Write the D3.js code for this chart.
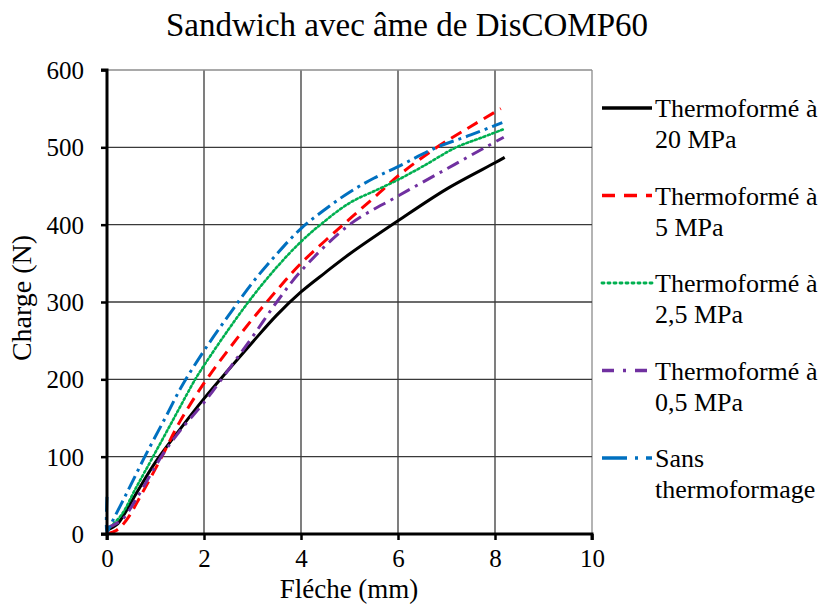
<!DOCTYPE html>
<html>
<head>
<meta charset="utf-8">
<script src="https://cdn.jsdelivr.net/npm/d3@7"></script>
<style>
  html, body { margin: 0; padding: 0; background: #fff; }
  svg { display: block; }
  svg text { font-family: 'Liberation Serif', 'Times New Roman', serif; fill: #000; }
</style>
</head>
<body>
<svg id="chart" width="823" height="616"></svg>
<script>
// ---------- Data ----------
const chartTitle = "Sandwich avec âme de DisCOMP60";
const xAxisTitle = "Fléche (mm)";
const yAxisTitle = "Charge (N)";
const xTicks = [0, 2, 4, 6, 8, 10];
const yTicks = [0, 100, 200, 300, 400, 500, 600];

const seriesNames = [
  ["Thermoformé à", "20 MPa"],
  ["Thermoformé à", "5 MPa"],
  ["Thermoformé à", "2,5 MPa"],
  ["Thermoformé à", "0,5 MPa"],
  ["Sans", "thermoformage"]
];

const fleche20 = [0, 0.2, 0.35, 0.6, 1.0, 1.5, 2, 2.5, 3, 3.5, 4, 4.5, 5, 6, 7, 8, 8.2];
const charge20 = [5, 12, 25, 52, 93, 135, 175, 212, 248, 283, 313, 338, 362, 405, 446, 480, 487];

const fleche5 = [0, 0.2, 0.4, 0.7, 1.13, 1.5, 2, 2.5, 3, 3.5, 4, 4.87, 5.63, 6, 6.8, 7.5, 8.12];
const charge5 = [0, 5, 18, 50, 100, 145, 195, 238, 278, 315, 350, 400, 442, 463, 500, 527, 550];

const fleche25 = [0, 0.3, 0.6, 0.95, 1.4, 1.81, 2, 2.5, 3, 3.5, 4, 4.4, 5, 5.6, 6, 6.5, 7.2, 7.7, 8.16];
const charge25 = [5, 25, 60, 100, 152, 199, 218, 264, 307, 345, 378, 400, 428, 446, 458, 475, 500, 512, 523];

const fleche05 = [0, 0.3, 0.6, 1.12, 1.5, 2, 2.5, 3, 3.5, 4, 5, 6, 7, 7.8, 8.18];
const charge05 = [8, 18, 45, 100, 133, 170, 212, 255, 300, 340, 400, 437, 472, 500, 513];

const flecheSans = [0, 0, 0.06, 0.4, 0.78, 1.2, 1.55, 2, 2.5, 3, 3.5, 4, 4.5, 5, 5.5, 6, 6.8, 7.5, 8.15];
const chargeSans = [48, 2, 10, 52, 100, 150, 192, 237, 282, 325, 362, 395, 420, 442, 460, 475, 500, 516, 532];

const seriesX = [fleche20, fleche5, fleche25, fleche05, flecheSans];
const seriesY = [charge20, charge5, charge25, charge05, chargeSans];

// ---------- Styles ----------
const FONT = "'Liberation Serif', 'Times New Roman', serif";
const colors = ["#000000", "#ff0000", "#00b050", "#7030a0", "#0070c0"];
const dashes = [null, "12,7", "2,2.6", "13,6,3,6", "15,5,3,5"];
const widths = [3, 3, 2.6, 3, 3];
const legendDashes = [null, "13,9", "2,4", "12,9,3,9", "25,8,3,8"];

// ---------- Layout ----------
const svg = d3.select("#chart");
const x = d3.scaleLinear().domain([0, 10]).range([107, 592]);
const y = d3.scaleLinear().domain([0, 600]).range([534, 70]);

// gridlines
const grid = svg.append("g");
grid.selectAll(".vg").data(xTicks.filter(d => d > 0)).enter().append("line")
  .attr("x1", d => x(d)).attr("x2", d => x(d))
  .attr("y1", y(600)).attr("y2", y(0))
  .attr("stroke", d => d === 10 ? "#8c8c8c" : "#3a3a3a").attr("stroke-width", 1.3);
grid.selectAll(".hg").data(yTicks.filter(d => d > 0)).enter().append("line")
  .attr("x1", x(0)).attr("x2", x(10))
  .attr("y1", d => y(d)).attr("y2", d => y(d))
  .attr("stroke", d => d === 600 ? "#8c8c8c" : "#3a3a3a").attr("stroke-width", 1.3);

// series
const line = d3.line().curve(d3.curveCatmullRom.alpha(0.5));
seriesX.forEach((xs, i) => {
  const pts = xs.map((v, k) => [x(v), y(seriesY[i][k])]);
  svg.append("path")
    .attr("d", line(pts))
    .attr("fill", "none")
    .attr("stroke", colors[i])
    .attr("stroke-width", widths[i])
    .attr("stroke-dasharray", dashes[i])
    .attr("stroke-linecap", i === 2 ? "round" : "butt")
    .attr("stroke-linejoin", "round");
});

// axes
const yAxis = d3.axisLeft(y).tickValues(yTicks).tickSize(6).tickPadding(17).tickFormat(d3.format("d"));
const xAxis = d3.axisBottom(x).tickValues(xTicks).tickSize(6).tickPadding(9).tickFormat(d3.format("d"));
const gy = svg.append("g").attr("transform", `translate(${x(0)},0)`).call(yAxis);
const gx = svg.append("g").attr("transform", `translate(0,${y(0)})`).call(xAxis);
[gy, gx].forEach(g => {
  g.attr("font-family", FONT).attr("font-size", 25);
  g.select(".domain").attr("stroke", "#000").attr("stroke-width", 3);
  g.selectAll(".tick line").attr("stroke", "#000").attr("stroke-width", 2.5);
  g.selectAll(".tick text").style("font-family", FONT).style("font-size", "25px").attr("fill", "#000");
});
gy.select(".domain").attr("d", `M-6,${y(600)}H0V${y(0)}H-6`);
gx.select(".domain").attr("d", `M${x(0)},6V0H${x(10)}V6`);
gy.selectAll(".tick text").attr("dy", "0.34em");
gx.selectAll(".tick text").attr("dy", "0.72em");

// titles
svg.append("text").attr("x", 407).attr("y", 36).attr("text-anchor", "middle")
  .style("font-family", FONT).style("font-size", "33px").text(chartTitle);
svg.append("text").attr("x", 349).attr("y", 598).attr("text-anchor", "middle")
  .style("font-family", FONT).style("font-size", "27px").text(xAxisTitle);
svg.append("text").attr("transform", "translate(31,298) rotate(-90)").attr("text-anchor", "middle")
  .style("font-family", FONT).style("font-size", "28px").text(yAxisTitle);

// legend
const legend = svg.append("g");
seriesNames.forEach((nm, i) => {
  const cy = 108 + i * 87.5;
  legend.append("line")
    .attr("x1", 602).attr("x2", 652).attr("y1", cy).attr("y2", cy)
    .attr("stroke", colors[i]).attr("stroke-width", widths[i] + 0.3)
    .attr("stroke-dasharray", legendDashes[i])
    .attr("stroke-linecap", i === 2 ? "round" : "butt");
  legend.append("text").attr("x", 655).attr("y", cy + 9)
    .style("font-family", FONT).style("font-size", "26px").text(nm[0]);
  legend.append("text").attr("x", 655).attr("y", cy + 40)
    .style("font-family", FONT).style("font-size", "26px").text(nm[1]);
});
</script>
</body>
</html>
